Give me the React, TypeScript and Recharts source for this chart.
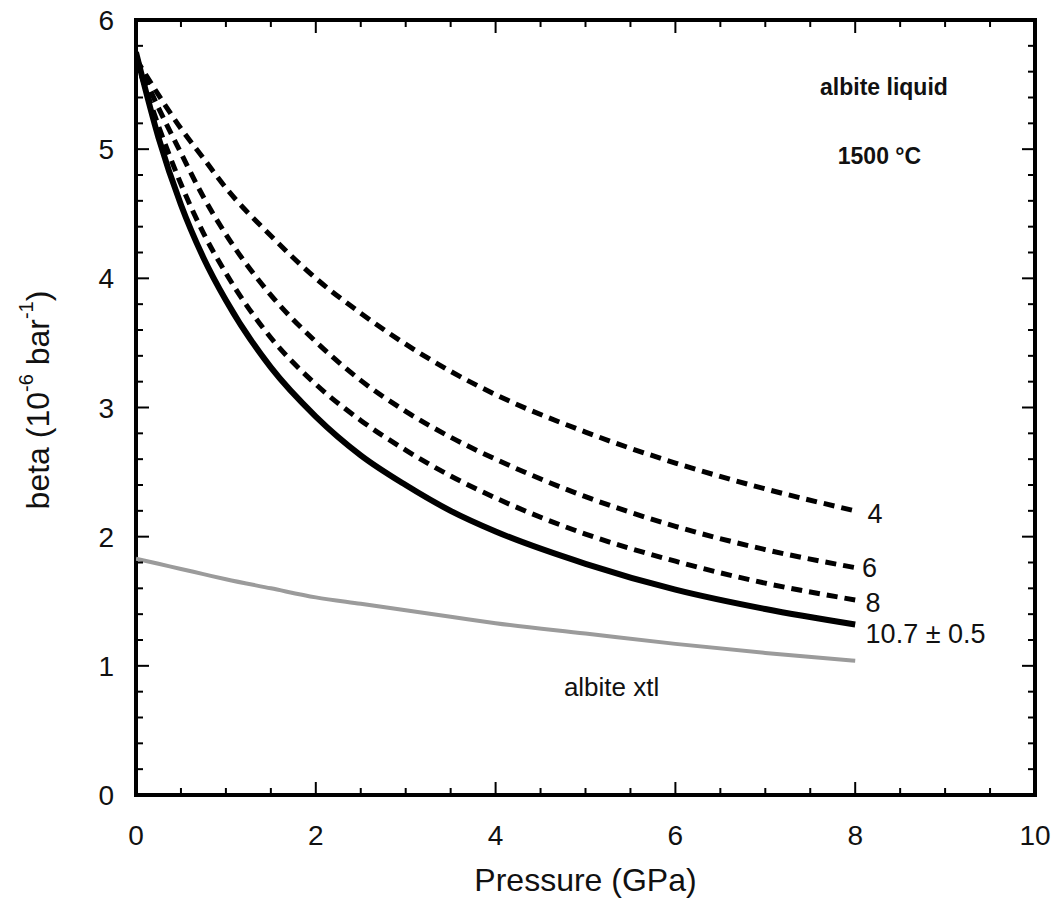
import { LineChart, Line, XAxis, YAxis, ReferenceArea, ReferenceDot } from "recharts";

// pressure in GPa, beta in 10^-6 bar^-1
const pressure = [0, 0.25, 0.5, 0.75, 1, 1.5, 2, 2.5, 3, 3.5, 4, 5, 6, 7, 8];
const kp4 = [5.7, 5.42, 5.16, 4.93, 4.7, 4.33, 4.0, 3.73, 3.49, 3.28, 3.1, 2.81, 2.57, 2.37, 2.2];
const kp6 = [5.7, 5.32, 4.97, 4.63, 4.34, 3.87, 3.51, 3.21, 2.97, 2.77, 2.6, 2.31, 2.08, 1.9, 1.76];
const kp8 = [5.7, 5.18, 4.73, 4.35, 4.04, 3.54, 3.18, 2.9, 2.67, 2.47, 2.3, 2.02, 1.81, 1.64, 1.51];
const kp107 = [5.75, 5.09, 4.57, 4.16, 3.83, 3.31, 2.93, 2.63, 2.4, 2.2, 2.04, 1.79, 1.59, 1.44, 1.32];
const xtl = [1.83, 1.79, 1.75, 1.71, 1.67, 1.6, 1.53, 1.48, 1.43, 1.38, 1.33, 1.25, 1.17, 1.1, 1.04];

const xTicks = [0, 0.5, 1, 1.5, 2, 2.5, 3, 3.5, 4, 4.5, 5, 5.5, 6, 6.5, 7, 7.5, 8, 8.5, 9, 9.5, 10];
const xLabels = [0, 2, 4, 6, 8, 10];
const yTicks = [
  0, 0.2, 0.4, 0.6, 0.8, 1, 1.2, 1.4, 1.6, 1.8, 2, 2.2, 2.4, 2.6, 2.8, 3,
  3.2, 3.4, 3.6, 3.8, 4, 4.2, 4.4, 4.6, 4.8, 5, 5.2, 5.4, 5.6, 5.8, 6,
];
const yLabels = [0, 1, 2, 3, 4, 5, 6];

const data = pressure.map((p, i) => ({
  p,
  kp4: kp4[i],
  kp6: kp6[i],
  kp8: kp8[i],
  kp107: kp107[i],
  xtl: xtl[i],
}));

const FONT = "Arial, 'Liberation Sans', sans-serif";
const W = 1057;
const H = 902;
const PLOT_LEFT = 136;
const PLOT_RIGHT = 1035;
const PLOT_TOP = 20;
const PLOT_BOTTOM = 795;

function XTick({ x, y, payload }: any) {
  const major = xLabels.includes(payload.value);
  const len = major ? 13 : 7;
  return (
    <g>
      <line x1={x} x2={x} y1={PLOT_BOTTOM} y2={PLOT_BOTTOM - len} stroke="#000" strokeWidth={2} />
      <line x1={x} x2={x} y1={PLOT_TOP} y2={PLOT_TOP + len} stroke="#000" strokeWidth={2} />
      {major && (
        <text x={x} y={y + 50} textAnchor="middle" fontSize={28} fontFamily={FONT} fill="#111">
          {payload.value}
        </text>
      )}
    </g>
  );
}

function YTick({ x, y, payload }: any) {
  const major = yLabels.includes(payload.value);
  const len = major ? 13 : 7;
  return (
    <g>
      <line x1={PLOT_LEFT} x2={PLOT_LEFT + len} y1={y} y2={y} stroke="#000" strokeWidth={2} />
      <line x1={PLOT_RIGHT} x2={PLOT_RIGHT - len} y1={y} y2={y} stroke="#000" strokeWidth={2} />
      {major && (
        <text x={x - 22} y={y} dy="0.36em" textAnchor="end" fontSize={28} fontFamily={FONT} fill="#111">
          {payload.value}
        </text>
      )}
    </g>
  );
}

function YTitle() {
  const cx = 38;
  const cy = 400;
  return (
    <text
      x={cx}
      y={cy}
      transform={`rotate(-90, ${cx}, ${cy})`}
      textAnchor="middle"
      dominantBaseline="central"
      fontSize={32}
      fontFamily={FONT}
      fill="#111"
    >
      beta (10
      <tspan fontSize={20} dy={-12}>-6</tspan>
      <tspan dy={12}> bar</tspan>
      <tspan fontSize={20} dy={-12}>-1</tspan>
      <tspan dy={12}>)</tspan>
    </text>
  );
}

function XTitle() {
  return (
    <text x={(PLOT_LEFT + PLOT_RIGHT) / 2} y={891} textAnchor="middle" fontSize={32} fontFamily={FONT} fill="#111">
      Pressure (GPa)
    </text>
  );
}

function note(value: string, position: string, bold = false, size = 27) {
  return {
    value,
    position,
    offset: 4,
    fill: "#111",
    fontSize: size,
    fontFamily: FONT,
    fontWeight: bold ? "bold" : "normal",
  };
}

export default function App() {
  return (
    <div style={{ position: "absolute", left: 0, top: 0, width: W, height: H, background: "#fff" }}>
      <LineChart
        width={W}
        height={H}
        data={data}
        margin={{ top: PLOT_TOP, right: W - PLOT_RIGHT, bottom: 47, left: 56 }}
      >
        <XAxis
          dataKey="p"
          type="number"
          domain={[0, 10]}
          ticks={xTicks}
          interval={0}
          tick={<XTick />}
          tickLine={false}
          axisLine={false}
          tickSize={0}
          tickMargin={0}
          height={60}
          allowDataOverflow
        />
        <YAxis
          type="number"
          domain={[0, 6]}
          ticks={yTicks}
          interval={0}
          tick={<YTick />}
          tickLine={false}
          axisLine={false}
          tickSize={0}
          tickMargin={0}
          width={80}
          allowDataOverflow
        />
        <Line dataKey="xtl" type="monotone" stroke="#9b9b9b" strokeWidth={4} dot={false} isAnimationActive={false} />
        <Line dataKey="kp107" type="monotone" stroke="#000" strokeWidth={6} dot={false} isAnimationActive={false} />
        <Line
          dataKey="kp8"
          type="monotone"
          stroke="#000"
          strokeWidth={5}
          strokeDasharray="11 7"
          dot={false}
          isAnimationActive={false}
        />
        <Line
          dataKey="kp6"
          type="monotone"
          stroke="#000"
          strokeWidth={5}
          strokeDasharray="11 7"
          dot={false}
          isAnimationActive={false}
        />
        <Line
          dataKey="kp4"
          type="monotone"
          stroke="#000"
          strokeWidth={5}
          strokeDasharray="11 7"
          dot={false}
          isAnimationActive={false}
        />
        <ReferenceArea x1={0} x2={10} y1={0} y2={6} fill="none" stroke="#000" strokeWidth={4} ifOverflow="visible" />
        <ReferenceDot x={8.08} y={2.18} r={1} fill="none" stroke="none" label={note("4", "right")} />
        <ReferenceDot x={8.02} y={1.76} r={1} fill="none" stroke="none" label={note("6", "right")} />
        <ReferenceDot x={8.06} y={1.49} r={1} fill="none" stroke="none" label={note("8", "right")} />
        <ReferenceDot x={8.06} y={1.25} r={1} fill="none" stroke="none" label={note("10.7 ± 0.5", "right")} />
        <ReferenceDot x={5.29} y={0.84} r={1} fill="none" stroke="none" label={note("albite xtl", "center", false, 26)} />
        <ReferenceDot x={8.32} y={5.48} r={1} fill="none" stroke="none" label={note("albite liquid", "center", true, 23)} />
        <ReferenceDot x={8.27} y={4.95} r={1} fill="none" stroke="none" label={note("1500 °C", "center", true, 23)} />
        <XTitle />
        <YTitle />
      </LineChart>
    </div>
  );
}
